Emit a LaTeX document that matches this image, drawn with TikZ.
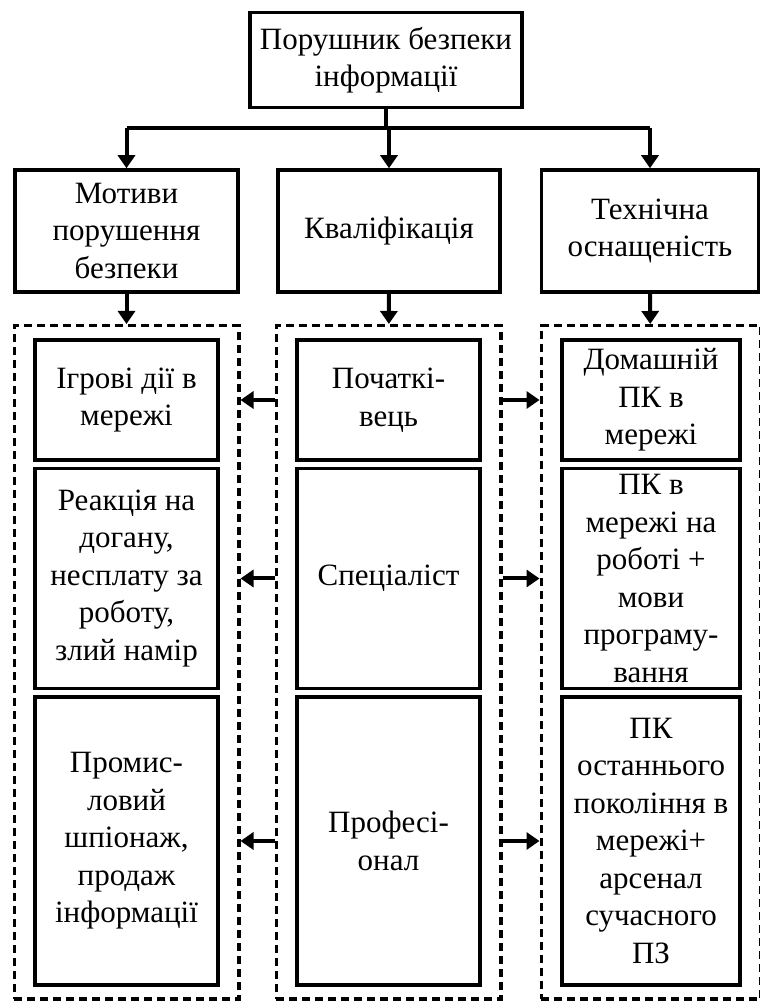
\documentclass[tikz,border=0pt]{standalone}
\usepackage{fontspec}
\setmainfont{Liberation Serif}[FakeStretch=1.0]
\usetikzlibrary{arrows.meta,positioning,fit}

\begin{document}
\begin{tikzpicture}[x=1pt, y=1pt, font=\fontsize{31pt}{37.5pt}\selectfont, node distance=5pt, every node/.style={inner sep=2pt}]
        \tikzset{
            box/.style={draw, line width=3.5pt, align=center, minimum height=#1},
            box/.default=122pt,
            frame/.style={draw, dashed, dash pattern=on 8pt off 5pt, line width=3.5pt, inner xsep=19pt, inner ysep=12.5pt},
            arr/.style={-{Triangle[width=17pt,length=13pt]}, line width=4pt}
        }
        \useasboundingbox (0,0) rectangle (760,1005);

        % top level
        \node[box=95pt, minimum width=272pt] (viol) at (386,945) {Порушник безпеки\\інформації};
        \node[box, minimum width=223pt] (motiv) at (126.5,774) {Мотиви\\порушення\\безпеки};
        \node[box, minimum width=222pt] (qual) at (389,774) {Кваліфікація};
        \node[box, minimum width=217pt] (tech) at (650,774) {Технічна\\оснащеність};

        % columns
        \node[box=120pt, minimum width=183pt] (game) at (126.5,605) {Ігрові дії в\\мережі};
        \node[box=220pt, minimum width=183pt, below=of game] (react) {Реакція на\\догану,\\несплату за\\роботу,\\злий намір};
        \node[box=288pt, minimum width=183pt, below=of react] (spy) {Промис-\\ловий\\шпіонаж,\\продаж\\інформації};

        \node[box=120pt, minimum width=183pt] (novice) at (388.5,605) {Початкі-\\вець};
        \node[box=220pt, minimum width=183pt, below=of novice] (spec) {Спеціаліст};
        \node[box=288pt, minimum width=183pt, below=of spec] (prof) {Професі-\\онал};

        \node[box=120pt, minimum width=178pt] (home) at (651,605) {Домашній\\ПК в\\мережі};
        \node[box=220pt, minimum width=178pt, below=of home] (work) {ПК в\\мережі на\\роботі +\\мови\\програму-\\вання};
        \node[box=288pt, minimum width=178pt, below=of work] (last) {ПК\\останнього\\покоління в\\мережі+\\арсенал\\сучасного\\ПЗ};

        \node[frame, fit=(game) (spy)] (motframe) {};
        \node[frame, fit=(novice) (prof)] (qualframe) {};
        \node[frame, fit=(home) (last)] (techframe) {};

        % bus from the top box
        \coordinate (bus) at (0,877);
        \draw[line width=4pt] (viol.south) -- (viol.south |- bus);
        \draw[line width=4pt] (motiv.north |- bus) -- (tech.north |- bus);
        \draw[arr] (motiv.north |- bus) -- (motiv.north);
        \draw[arr] (qual.north |- bus) -- (qual.north);
        \draw[arr] (tech.north |- bus) -- (tech.north);

        \draw[arr] (motiv) -- (motframe);
        \draw[arr] (qual) -- (qualframe);
        \draw[arr] (tech) -- (techframe);

        % from qualification to the other columns
        \foreach \lvl in {novice, spec, prof} {
            \draw[arr] (qualframe.west |- \lvl) -- (motframe.east |- \lvl);
            \draw[arr] (qualframe.east |- \lvl) -- (techframe.west |- \lvl);
        }
    \end{tikzpicture}
\end{document}
